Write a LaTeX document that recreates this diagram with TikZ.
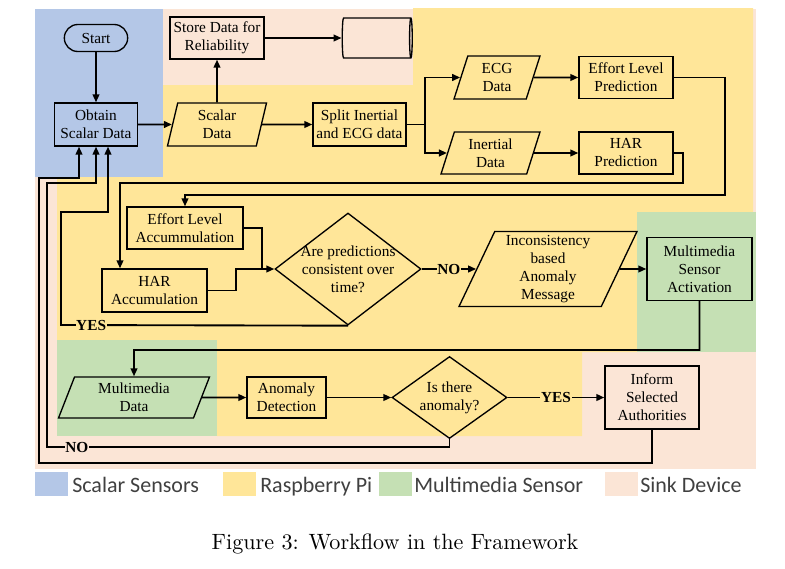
\documentclass[tikz,border=0pt]{standalone}
\usepackage{fontspec}
\newfontfamily\timesfont{Liberation Serif}
\newfontfamily\legendfont{Carlito}
\newfontfamily\capfont{lmroman10-regular.otf}
\usepackage{xcolor}
\usepackage{tikz}
\usetikzlibrary{shapes,shapes.geometric,shapes.misc,arrows.meta,calc}
\definecolor{tsBlue}{RGB}{180,199,231}
\definecolor{tsYellow}{RGB}{255,230,153}
\definecolor{tsGreen}{RGB}{197,224,180}
\definecolor{tsPink}{RGB}{251,229,214}
\tikzstyle{tsText} = [ 
    text=black, 
    font=\timesfont\fontsize{11.5}{13.5}\selectfont
]
\tikzstyle{tsWraptext} = [ 
    tsText, 
    text centered, 
    align=center
]
\tikzstyle{tsRectangle} = [ 
    rectangle,
    tsWraptext,               
    draw=black,
    inner sep=1pt,
    line width=1pt]
\tikzstyle{tsTerminal} = [ 
    tsRectangle,
    rounded rectangle
]
\tikzstyle{tsData} = [ 
    tsRectangle,
    trapezium,
    trapezium stretches body
]
\tikzstyle{tsDiamond} = [ 
    tsRectangle,
    diamond
]
\tikzstyle{tsDisk} = [ 
    tsRectangle,
    cylinder,
    shape aspect=1
]
\tikzstyle{tsLine} = [ 
    draw=black,
    line width=1.4pt
]
\tikzstyle{tsArrow} = [ 
    tsLine,
    -{Triangle[length=6pt,width=5pt]}
]
\tikzstyle{tsYesNo} = [ 
    tsText,
    font=\timesfont\bfseries\fontsize{11.5}{13.5}\selectfont,
    inner sep=0.5pt
]
\tikzstyle{tsKey} = [ 
    rectangle,
    minimum width=24.75pt,
    minimum height=18pt
]
\tikzstyle{tsKeyText} = [ 
    anchor=base west,
    inner sep=0pt,
    text=black!75,
    font=\legendfont\fontsize{16.5}{19}\selectfont
]
\begin{document}
\begin{tikzpicture}[x=0.75pt, y=-0.75pt]
        
        \useasboundingbox (0,0) rectangle (785,568);
        
        \fill[tsPink] (35,9) rectangle (756,469);
        \fill[tsBlue] (35,9) rectangle (163,177);
        \fill[tsYellow] (413,8) -- (753,8) -- (753,212) -- (637,212) -- (637,352)
            -- (582,352) -- (582,436) -- (217,436) -- (217,340) -- (57,340)
            -- (57,177) -- (163,177) -- (163,85) -- (413,85) -- cycle;
        \fill[tsGreen] (637,212) rectangle (756,352);
        \fill[tsGreen] (57,340) rectangle (217,436);
        
        \node[ tsTerminal,
                minimum width=49.5pt,
                minimum height=20.25pt] (start) at (96,38) {Start};
        
        \node[ tsRectangle,
                minimum width=62.25pt,
                minimum height=32.25pt] (obtain) at (96,124.5) {Obtain\\Scalar Data};
        
        \node[ tsRectangle,
                minimum width=70.5pt,
                minimum height=31.5pt] (store) at (217,38) {Store Data for\\Reliability};
        
        \node[ tsDisk,
                minimum width=30pt,
                minimum height=52.5pt] (disk) at (376,38) {};
        
        \node[ tsData,
                trapezium left angle=72,
                trapezium right angle=108,
                minimum width=74.25pt,
                minimum height=32.25pt] (scalar) at (217,124.5) {Scalar\\Data};
        
        \node[ tsRectangle,
                minimum width=69.75pt,
                minimum height=32.25pt] (split) at (359.5,124.5) {Split Inertial\\and ECG data};
        
        \node[ tsData,
                trapezium left angle=66,
                trapezium right angle=114,
                minimum width=64.5pt,
                minimum height=32.25pt] (ecg) at (497,77.5) {ECG\\Data};
        
        \node[ tsRectangle,
                minimum width=70.5pt,
                minimum height=31.5pt] (effpred) at (626,77.5) {Effort Level\\Prediction};
        
        \node[ tsData,
                trapezium left angle=67,
                trapezium right angle=113,
                minimum width=74.25pt,
                minimum height=31.5pt] (inertial) at (490.5,153) {Inertial\\Data};
        
        \node[ tsRectangle,
                minimum width=70.5pt,
                minimum height=31.5pt] (harpred) at (626,153) {HAR\\Prediction};
        
        \node[ tsRectangle,
                minimum width=87pt,
                minimum height=31.5pt] (effacc) at (185,228) {Effort Level\\Accummulation};
        
        \node[ tsRectangle,
                minimum width=78.75pt,
                minimum height=32.25pt] (haracc) at (154.5,290.5) {HAR\\Accumulation};
        
        \node[ tsDiamond,
                minimum width=109.5pt,
                minimum height=84pt,
                label={[tsWraptext]center:{Are predictions\\consistent over\\time?}}] (check) at (348,269) {};
        
        \node[ tsData,
                trapezium left angle=63,
                trapezium right angle=117,
                minimum width=133.5pt,
                minimum height=56.25pt] (incons) at (548,269) {Inconsistency\\based\\Anomaly\\Message};
        
        \node[ tsRectangle,
                minimum width=78.75pt,
                minimum height=47.25pt] (msa) at (699.5,269) {Multimedia\\Sensor\\Activation};
        
        \node[ tsData,
                trapezium left angle=63,
                trapezium right angle=117,
                minimum width=113.25pt,
                minimum height=30.75pt] (mmdata) at (134,397.5) {Multimedia\\Data};
        
        \node[ tsRectangle,
                minimum width=59.25pt,
                minimum height=30.75pt] (anomdet) at (286.5,397.5) {Anomaly\\Detection};
        
        \node[ tsDiamond,
                minimum width=86.25pt,
                minimum height=61.5pt,
                label={[tsWraptext]center:{Is there\\anomaly?}}] (anomq) at (449.5,397.5) {};
        
        \node[ tsRectangle,
                minimum width=70.5pt,
                minimum height=47.25pt] (inform) at (652,397.5) {Inform\\Selected\\Authorities};
        
        \coordinate (fork) at (425,124.5);
        \coordinate (effturn) at (725,195);
        \coordinate (harturn) at (683,183);
        \coordinate (harleft) at (120,183);
        \coordinate (merge) at (262,269);
        \coordinate (harjoin) at (236,269);
        \coordinate (yesturn) at (61,325);
        \coordinate (yesup) at (108,212);
        \coordinate (mmturn) at (134,350);
        \coordinate (noturn) at (47,447);
        \coordinate (noup) at (96,183);
        \coordinate (infturn) at (39,463);
        \coordinate (infup) at (79,178);
        
        \draw[tsArrow] (start) -- (obtain);
        \draw[tsArrow] (obtain) -- (scalar);
        \draw[tsArrow] (scalar) -- (store);
        \draw[tsArrow] (store) -- (disk);
        \draw[tsArrow] (scalar) -- (split);
        \draw[tsLine] (split) -- (fork);
        \draw[tsArrow] (fork) |- (ecg);
        \draw[tsArrow] (fork) |- (inertial);
        \draw[tsArrow] (ecg) -- (effpred);
        \draw[tsArrow] (inertial) -- (harpred);
        \draw[tsArrow] (effpred) -| (effturn) -| (effacc);
        \draw[tsArrow] (harpred) -| (harturn) -- (harleft) -- (harleft |- haracc.north);
        \draw[tsLine] (effacc) -| (merge);
        \draw[tsLine] (haracc) -| (harjoin) -- (merge);
        \draw[tsArrow] (merge) -- (check);
        \draw[tsArrow] (check.south) -- node[tsYesNo, fill=tsYellow, pos=0.895] (yes1) {YES} (yesturn)
            |- (yesup) -- (yesup |- obtain.south);
        \draw[tsArrow] (check) -- node[tsYesNo, fill=tsYellow] (no1) {NO} (incons);
        \draw[tsArrow] (incons) -- (msa);
        \draw[tsArrow] (msa) |- (mmturn) -- (mmdata);
        \draw[tsArrow] (mmdata) -- (anomdet);
        \draw[tsArrow] (anomdet) -- (anomq);
        \draw[tsArrow] (anomq) -- node[tsYesNo, fill=tsYellow] (yes2) {YES} (inform);
        \draw[tsArrow] (anomq.south) |- node[tsYesNo, fill=tsPink, pos=0.963] (no2) {NO} (noturn)
            |- (noup) -- (noup |- obtain.south);
        \draw[tsArrow] (inform) |- (infturn) |- (infup) -- (infup |- obtain.south);
        
        \node[tsKey, fill=tsBlue] (keyscalar) at (51.5,484) {};
        \node[tsKeyText] (txtscalar) at (72,492) {Scalar Sensors};
        \node[tsKey, fill=tsYellow] (keypi) at (239,484) {};
        \node[tsKeyText] (txtpi) at (260,492) {Raspberry Pi};
        \node[tsKey, fill=tsGreen] (keymm) at (395,484) {};
        \node[tsKeyText] (txtmm) at (414,492) {Multimedia Sensor};
        \node[tsKey, fill=tsPink] (keysink) at (621.5,484) {};
        \node[tsKeyText] (txtsink) at (640,492) {Sink Device};
        
        \node[font=\capfont\fontsize{16.6}{20}\selectfont] (caption) at (395,544) {Figure 3: Workflow in the Framework};
        
    \end{tikzpicture}
\end{document}
